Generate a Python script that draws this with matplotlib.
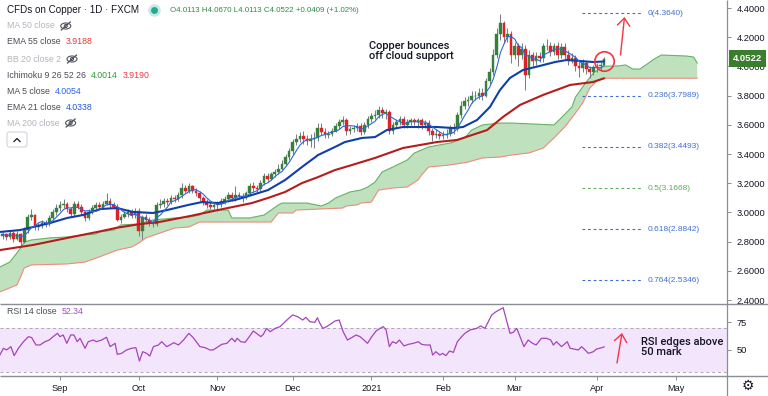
import numpy as np
import pandas as pd
import matplotlib
matplotlib.use('Agg')
import matplotlib.pyplot as plt
from matplotlib.patches import Ellipse, Circle, FancyBboxPatch
from matplotlib.transforms import blended_transform_factory
from matplotlib.ticker import FormatStrFormatter

plt.rcParams['font.family'] = ['Liberation Sans', 'DejaVu Sans']

# ---------------- data ----------------
first_open = 2.84
close = [2.85, 2.83, 2.86, 2.82, 2.85, 2.80, 2.88, 2.97, 2.98, 2.90,
         2.91, 2.93, 2.92, 2.96, 3.00, 3.03, 3.05, 3.06, 3.02, 2.99,
         3.06, 3.04, 3.00, 2.96, 3.00, 3.03, 3.05, 3.04, 3.06, 3.08,
         3.05, 3.04, 2.95, 2.97, 2.99, 3.00, 2.98, 3.01, 2.87, 2.97,
         2.95, 2.93, 2.92, 3.05, 3.06, 3.08, 3.07, 3.10, 3.09, 3.12,
         3.17, 3.15, 3.18, 3.15, 3.13, 3.10, 3.07, 3.05, 3.04, 3.05,
         3.06, 3.08, 3.09, 3.12, 3.10, 3.12, 3.11, 3.10, 3.13, 3.18,
         3.17, 3.16, 3.20, 3.25, 3.23, 3.26, 3.28, 3.30, 3.33, 3.38,
         3.42, 3.48, 3.50, 3.52, 3.50, 3.49, 3.50, 3.51, 3.58, 3.55,
         3.53, 3.54, 3.56, 3.59, 3.62, 3.63, 3.56, 3.57, 3.58, 3.59,
         3.55, 3.60, 3.64, 3.66, 3.67, 3.70, 3.68, 3.69, 3.56, 3.60,
         3.62, 3.64, 3.60, 3.62, 3.63, 3.62, 3.63, 3.60, 3.61, 3.56,
         3.53, 3.54, 3.52, 3.53, 3.54, 3.58, 3.57, 3.67, 3.73, 3.76,
         3.77, 3.80, 3.80, 3.82, 3.80, 3.90, 3.96, 4.08, 4.22, 4.30,
         4.20, 4.22, 4.08, 4.14, 4.08, 4.12, 3.94, 4.08, 4.04, 4.07,
         4.06, 4.14, 4.14, 4.10, 4.14, 4.08, 4.13, 4.08, 4.04, 4.06,
         4.00, 3.99, 4.02, 3.98, 3.965, 3.995, 4.0035, 4.0113, 4.0522]
high = [2.87, 2.86, 2.88, 2.87, 2.87, 2.86, 2.90, 2.99, 3.02, 2.99,
        2.93, 2.95, 2.95, 2.98, 3.02, 3.06, 3.08, 3.09, 3.07, 3.04,
        3.08, 3.08, 3.06, 3.01, 3.02, 3.05, 3.07, 3.07, 3.08, 3.13,
        3.10, 3.07, 3.06, 2.99, 3.01, 3.02, 3.02, 3.03, 3.03, 2.98,
        2.99, 2.97, 2.95, 3.07, 3.09, 3.10, 3.10, 3.12, 3.12, 3.14,
        3.20, 3.19, 3.20, 3.19, 3.17, 3.15, 3.11, 3.09, 3.07, 3.07,
        3.08, 3.10, 3.11, 3.14, 3.14, 3.18, 3.14, 3.13, 3.15, 3.20,
        3.21, 3.19, 3.22, 3.27, 3.27, 3.28, 3.30, 3.33, 3.36, 3.40,
        3.44, 3.50, 3.54, 3.55, 3.56, 3.53, 3.54, 3.55, 3.61, 3.61,
        3.58, 3.56, 3.58, 3.61, 3.64, 3.66, 3.65, 3.59, 3.60, 3.61,
        3.61, 3.62, 3.66, 3.68, 3.70, 3.73, 3.72, 3.71, 3.70, 3.62,
        3.64, 3.66, 3.66, 3.64, 3.65, 3.65, 3.65, 3.65, 3.63, 3.63,
        3.58, 3.57, 3.56, 3.56, 3.57, 3.60, 3.61, 3.69, 3.76, 3.79,
        3.80, 3.83, 3.83, 3.85, 3.85, 3.92, 3.99, 4.12, 4.26, 4.36,
        4.31, 4.26, 4.24, 4.17, 4.16, 4.16, 4.15, 4.11, 4.10, 4.10,
        4.10, 4.16, 4.19, 4.17, 4.16, 4.17, 4.16, 4.16, 4.11, 4.09,
        4.08, 4.04, 4.05, 4.04, 4.00, 4.01, 4.02, 4.03, 4.067]
low = [2.82, 2.81, 2.82, 2.80, 2.81, 2.77, 2.79, 2.86, 2.95, 2.88,
       2.88, 2.89, 2.90, 2.91, 2.95, 2.98, 3.01, 3.03, 3.00, 2.97,
       2.97, 3.02, 2.98, 2.94, 2.95, 2.99, 3.01, 3.02, 3.03, 3.05,
       3.03, 3.02, 2.94, 2.93, 2.96, 2.97, 2.96, 2.96, 2.84, 2.82,
       2.93, 2.91, 2.90, 2.91, 3.03, 3.04, 3.05, 3.06, 3.07, 3.08,
       3.10, 3.13, 3.13, 3.13, 3.11, 3.08, 3.05, 3.03, 3.02, 3.02,
       3.01, 3.04, 3.06, 3.07, 3.08, 3.08, 3.09, 3.07, 3.09, 3.12,
       3.14, 3.13, 3.15, 3.19, 3.21, 3.22, 3.24, 3.26, 3.29, 3.32,
       3.36, 3.40, 3.46, 3.48, 3.47, 3.46, 3.45, 3.44, 3.49, 3.53,
       3.51, 3.51, 3.52, 3.55, 3.57, 3.60, 3.53, 3.54, 3.55, 3.56,
       3.53, 3.54, 3.58, 3.62, 3.64, 3.65, 3.65, 3.64, 3.54, 3.54,
       3.58, 3.60, 3.58, 3.58, 3.60, 3.60, 3.58, 3.57, 3.58, 3.53,
       3.49, 3.51, 3.50, 3.50, 3.51, 3.52, 3.54, 3.56, 3.65, 3.71,
       3.73, 3.75, 3.77, 3.78, 3.77, 3.79, 3.88, 3.94, 4.06, 4.18,
       4.16, 4.17, 4.02, 4.05, 4.00, 4.05, 3.84, 3.92, 4.00, 4.01,
       4.03, 4.03, 4.11, 4.07, 4.08, 4.05, 4.06, 4.05, 4.01, 4.02,
       3.97, 3.93, 3.96, 3.95, 3.92, 3.94, 3.96, 3.97, 4.0113]

ema55_idx = [-0.8, 8.5, 18.0, 27.2, 31.9, 38.4, 43.9, 52.3, 60.1, 69.6, 74.1, 78.9, 83.6,
             88.1, 92.8, 97.6, 104.0, 111.8, 121.3, 126.9, 135.3, 139.7, 144.5, 150.9,
             158.5, 164.9, 168]
ema55 = [2.742, 2.777, 2.825, 2.870, 2.895, 2.920, 2.935, 2.975, 3.016, 3.064, 3.099, 3.140,
         3.201, 3.242, 3.290, 3.325, 3.373, 3.441, 3.482, 3.496, 3.564, 3.653, 3.736, 3.804,
         3.873, 3.893, 3.9188]

ema21_idx = [-0.8, 4.8, 8.5, 13.2, 18.0, 22.4, 27.2, 31.9, 36.4, 42.0, 45.9, 51.8, 55.7, 60.1,
             64.9, 69.6, 74.1, 78.9, 83.6, 88.1, 92.8, 95.6, 100.4, 104.0, 107.3, 111.8, 121.3,
             125.8, 128.6, 132.5, 136.1, 138.9, 141.7, 145.3, 150.0, 154.3, 157.6, 161.3,
             164.9, 168]
ema21 = [2.866, 2.879, 2.900, 2.927, 2.962, 2.982, 3.023, 3.030, 3.003, 2.996, 3.016, 3.051,
         3.071, 3.064, 3.085, 3.119, 3.153, 3.222, 3.311, 3.393, 3.448, 3.482, 3.510, 3.516,
         3.564, 3.585, 3.585, 3.578, 3.585, 3.633, 3.722, 3.838, 3.921, 3.975, 4.003, 4.030,
         4.044, 4.037, 4.030, 4.0338]

span_a_idx = [-0.8, 2, 5, 6, 8, 13, 18, 23, 26, 27, 31, 33, 38, 42, 48, 52, 55, 57, 63, 64,
              69, 73, 77, 78, 85, 89, 91, 93, 95, 97, 100, 102, 104, 106, 109, 113, 115, 119,
              122, 125, 129, 131, 134, 139, 142, 154, 156, 159, 160, 162, 163, 165, 167, 168,
              172, 174, 176, 178, 180, 182, 184, 191, 193, 194]
span_a = [2.626, 2.660, 2.756, 2.797, 2.811, 2.825, 2.832, 2.846, 2.852, 2.866, 2.879, 2.914,
          2.921, 2.948, 2.962, 2.968, 2.982, 3.016, 3.016, 2.962, 2.962, 2.982, 3.051, 3.064,
          3.064, 3.044, 3.064, 3.099, 3.119, 3.140, 3.153, 3.174, 3.208, 3.277, 3.311, 3.359,
          3.407, 3.448, 3.462, 3.475, 3.510, 3.564, 3.599, 3.612, 3.612, 3.599, 3.647, 3.722,
          3.790, 3.859, 3.893, 3.955, 3.989, 4.0014, 4.003, 4.010, 3.982, 3.982, 4.016, 4.051,
          4.078, 4.071, 4.064, 4.023]
span_b_idx = [-0.8, 4, 5, 6, 8, 18, 23, 27, 32, 36, 38, 40, 44, 48, 52, 55, 75, 77, 81, 82,
              95, 96, 99, 100, 103, 105, 109, 113, 116, 117, 119, 125, 130, 134, 139, 142, 147,
              151, 154, 157, 160, 162, 164, 166, 168, 194]
span_b = [2.455, 2.503, 2.558, 2.619, 2.640, 2.647, 2.660, 2.695, 2.742, 2.763, 2.790, 2.825,
          2.859, 2.893, 2.900, 2.934, 2.934, 2.996, 2.996, 3.016, 3.030, 3.044, 3.051, 3.064,
          3.071, 3.153, 3.167, 3.174, 3.222, 3.256, 3.311, 3.325, 3.345, 3.373, 3.379, 3.393,
          3.407, 3.441, 3.510, 3.585, 3.681, 3.749, 3.852, 3.900, 3.919, 3.919]

rsi_idx = [-0.8, 0.2, 1.1, 2.3, 3.2, 4.4, 5.8, 7.2, 8.1, 9.3,
           10.4, 11.8, 13.0, 14.1, 15.3, 16.0, 16.9, 17.9, 19.0, 19.9,
           20.8, 21.6, 23.0, 23.9, 25.3, 26.2, 27.6, 29.0, 30.0, 31.4,
           32.0, 33.2, 34.6, 36.0, 37.2, 38.2, 39.1, 40.2, 41.1, 42.1,
           43.5, 44.4, 45.8, 46.7, 47.8, 49.1, 50.5, 52.0, 53.2, 55.1,
           56.5, 57.9, 58.8, 60.2, 61.2, 62.6, 64.0, 64.9, 65.5, 66.5,
           67.7, 68.9, 70.0, 70.9, 72.1, 72.8, 73.7, 74.7, 76.1, 77.5,
           78.9, 80.1, 81.0, 82.4, 83.8, 84.7, 85.8, 87.2, 87.9, 88.6,
           89.4, 90.5, 91.9, 92.8, 94.0, 95.1, 96.3, 97.5, 98.7, 99.8,
           100.7, 101.9, 103.1, 104.3, 105.4, 106.3, 107.1, 108.0, 108.9, 109.9,
           110.8, 112.1, 113.3, 114.7, 116.1, 117.0, 118.1, 119.4, 120.1, 121.0,
           122.1, 122.9, 123.8, 124.8, 125.9, 127.0, 128.2, 129.1, 130.5, 132.4,
           133.5, 134.7, 136.6, 137.8, 139.8, 141.7, 142.6, 143.6, 144.5, 145.6,
           146.8, 148.0, 149.0, 150.5, 151.9, 153.1, 153.8, 154.7, 156.1, 157.7,
           158.5, 159.4, 160.8, 161.7, 162.4, 163.6, 165.0, 165.9, 166.8, 168.0]
rsi = [45.0, 51.1, 49.6, 52.6, 44.4, 51.1, 57.1, 61.7, 60.8, 54.1,
       54.1, 57.1, 58.6, 61.7, 64.7, 61.7, 63.2, 55.6, 63.2, 63.2,
       57.1, 60.2, 51.1, 57.1, 58.6, 57.1, 58.6, 61.1, 52.6, 55.6,
       45.6, 46.5, 49.6, 51.1, 51.7, 39.5, 48.0, 46.5, 44.1, 52.6,
       54.1, 57.1, 52.6, 54.1, 56.2, 54.1, 58.6, 64.7, 60.8, 52.6,
       51.7, 49.6, 49.6, 52.6, 54.7, 55.6, 60.2, 57.1, 60.2, 57.1,
       56.5, 61.7, 66.8, 64.7, 61.7, 63.8, 69.2, 66.2, 69.2, 70.8,
       75.3, 78.9, 81.4, 79.8, 76.8, 79.2, 75.3, 74.7, 78.9, 73.8,
       69.2, 70.8, 73.8, 75.9, 76.8, 66.2, 58.6, 60.8, 63.2, 61.7,
       59.2, 55.6, 61.7, 66.8, 69.2, 70.8, 67.7, 52.6, 57.1, 55.6,
       58.6, 53.2, 54.7, 55.6, 57.1, 54.7, 54.1, 54.1, 45.0, 48.0,
       45.0, 46.5, 44.4, 48.6, 47.4, 57.1, 61.7, 64.7, 67.7, 69.2,
       71.4, 69.2, 81.4, 84.4, 88.0, 64.7, 65.6, 69.2, 61.7, 52.6,
       58.6, 55.6, 54.1, 60.2, 60.2, 58.6, 54.1, 57.1, 52.6, 57.1,
       51.1, 50.5, 49.6, 52.6, 50.5, 46.5, 48.0, 50.5, 51.1, 52.34]

fib_ratio = ['0', '0.236', '0.382', '0.5', '0.618', '0.764']
fib_level = [4.3640, 3.7989, 3.4493, 3.1668, 2.8842, 2.5346]

price_ticks = [2.4, 2.6, 2.8, 3.0, 3.2, 3.4, 3.6, 3.8, 4.0, 4.2, 4.4]
rsi_ticks = [50, 75]

# ---------------- derived ----------------
C = np.array(close)
H = np.array(high)
L = np.array(low)
O = np.concatenate([[first_open], C[:-1]])
N = len(C)
xi = np.arange(N)
ma5 = pd.Series(C).rolling(5, min_periods=1).mean().values

holidays = pd.to_datetime(['2020-12-25', '2021-01-01'])
days = pd.bdate_range('2020-08-10', '2021-05-31')
days = days[~days.isin(holidays)]
mt_pos, mt_lab = [], []
for i in range(1, len(days)):
    if days[i].month != days[i - 1].month:
        mt_pos.append(i)
        mt_lab.append('2021' if days[i].month == 1 else days[i].strftime('%b'))

# ---------------- style ----------------
GREEN = '#35803a'
RED = '#e01f26'
WICK = '#7d7f86'
TXT = '#131722'
LINEC = '#8a8d96'

W, Hh = 768, 396
fig = plt.figure(figsize=(W / 100, Hh / 100), dpi=100)
XL = (-0.754, 202.32)

ax = fig.add_axes([0, 1 - 304 / Hh, 727 / W, 304 / Hh])
rx = fig.add_axes([0, 1 - 376 / Hh, 727 / W, 72 / Hh])

# cloud
poly_x = list(span_a_idx) + list(span_b_idx)[::-1]
poly_y = list(span_a) + list(span_b)[::-1]
ax.fill(poly_x, poly_y, color='#bfe1bd', lw=0, zorder=1)
ax.plot(span_a_idx, span_a, color='#66b266', lw=0.8, zorder=2)
ax.plot(span_b_idx, span_b, color='#ef8a7e', lw=0.8, zorder=2)

# candles
up = C >= O
ax.vlines(xi, L, H, color=WICK, lw=0.75, zorder=4)
ax.bar(xi[up], (C - O)[up], bottom=O[up], width=0.74, color=GREEN, edgecolor=GREEN, lw=0.3, zorder=5)
ax.bar(xi[~up], (C - O)[~up], bottom=O[~up], width=0.74, color=RED, edgecolor=RED, lw=0.3, zorder=5)

# moving averages
ax.plot(ema55_idx, ema55, color='#b71c1c', lw=1.5, zorder=6, solid_capstyle='round')
ax.plot(ema21_idx, ema21, color='#0f3fa8', lw=1.5, zorder=6, solid_capstyle='round')
ax.plot(xi, ma5, color='#2f66dd', lw=0.8, zorder=6)

# fibonacci
for r, v in zip(fib_ratio, fib_level):
    col = '#5cae5c' if r == '0.5' else '#3d6fd6'
    ax.hlines(v, 161.8, 178.8, colors=col, linestyles=(0, (2.5, 2.5)), lw=0.8, zorder=3)
    ax.text(180.2, v, f'{r}({v:.4f})', color=col, fontsize=6.0, va='center', ha='left', zorder=7)

# red circle around last candle
ax.plot([xi[-1]], [(H[-1] + L[-1]) / 2], 'o', ms=14, mfc='none', mec='#f23645', mew=1.2, zorder=8)

ax.set_xlim(*XL)
ax.set_ylim(4.4 - 296 / 146, 4.4 + 8 / 146)
ax.yaxis.tick_right()
ax.set_yticks(price_ticks)
ax.yaxis.set_major_formatter(FormatStrFormatter('%.4f'))
ax.tick_params(axis='y', length=3, width=0.7, color=LINEC, labelsize=6.7, labelcolor=TXT, pad=4)
ax.tick_params(axis='x', bottom=False, labelbottom=False)
for s in ax.spines.values():
    s.set_visible(False)

# current price label
bt = blended_transform_factory(ax.transAxes, ax.transData)
ax.text(1.0 + 6 / 727, C[-1], f'{C[-1]:.4f}', transform=bt, ha='left', va='center', fontsize=6.8,
        fontweight='bold', color='white', clip_on=False, zorder=20,
        bbox=dict(boxstyle='square,pad=0.42', fc='#3a7d2c', ec='none'))

# RSI panel
rx.fill_between([XL[0], XL[1]], 30, 70, color='#f3e6fc', lw=0, zorder=1)
rx.hlines([30, 70], XL[0], XL[1], colors='#a9a9b3', linestyles=(0, (3, 3)), lw=0.7, zorder=2)
rx.plot(rsi_idx, rsi, color='#a544bb', lw=0.9, zorder=3)
rx.set_xlim(*XL)
rx.set_ylim(30 - 4.5 / 1.1, 70 + 23.5 / 1.1)
rx.yaxis.tick_right()
rx.set_yticks(rsi_ticks)
rx.tick_params(axis='y', length=3, width=0.7, color=LINEC, labelsize=6.7, labelcolor=TXT, pad=4)
rx.set_xticks(mt_pos)
rx.set_xticklabels(mt_lab)
rx.tick_params(axis='x', length=3, width=0.7, color=LINEC, labelsize=6.6, labelcolor=TXT, pad=3)
for s in rx.spines.values():
    s.set_visible(False)

# ---------------- overlay (pixel coords) ----------------
ov = fig.add_axes([0, 0, 1, 1], zorder=10)
ov.set_xlim(0, W)
ov.set_ylim(Hh, 0)
ov.axis('off')
ov.patch.set_alpha(0)

ov.hlines([304, 376], 0, W, colors=LINEC, lw=1.0)
ov.vlines(727, 0, Hh, colors=LINEC, lw=0.9)

fig.canvas.draw()
renderer = fig.canvas.get_renderer()


def segs(x, y, parts, size=6.3, gap=5):
    for s, col in parts:
        t = ov.text(x, y, s, color=col, fontsize=size, va='center', ha='left')
        x += t.get_window_extent(renderer).width + gap
    return x


def eye(cx, cy, col='#50535e'):
    ov.add_patch(Ellipse((cx, cy), 10, 6, fill=False, ec=col, lw=0.8))
    ov.add_patch(Circle((cx, cy), 1.5, fill=False, ec=col, lw=0.8))
    ov.plot([cx - 4.5, cx + 4.5], [cy + 4, cy - 4], color=col, lw=0.9)


xe = segs(7, 10, [('CFDs on Copper · 1D · FXCM', TXT)], size=7.1, gap=0)
dot_x = xe + 15
ov.plot([dot_x], [10], 'o', ms=9, color='#22ab94', alpha=0.25, mew=0)
ov.plot([dot_x], [10], 'o', ms=5, color='#22ab94', mew=0)
chg = C[-1] - O[-1]
ohlc = f'O{O[-1]:.4f} H{H[-1]:.4f} L{L[-1]:.4f} C{C[-1]:.4f} {chg:+.4f} ({chg / O[-1] * 100:+.2f}%)'
segs(dot_x + 16, 10, [(ohlc, '#2f8a48')], size=5.7, gap=0)

GREY = '#b2b5be'
NAME = '#4a4d57'
rows_y = [26, 42, 59, 75, 91, 107, 123]
xe = segs(7, rows_y[0], [('MA 50 close', GREY)])
eye(xe + 6, rows_y[0])
segs(7, rows_y[1], [('EMA 55 close', NAME), (f'{ema55[-1]:.4f}', '#e53935')])
xe = segs(7, rows_y[2], [('BB 20 close 2', GREY)])
eye(xe + 6, rows_y[2])
segs(7, rows_y[3], [('Ichimoku 9 26 52 26', NAME), (f'{span_a[span_a_idx.index(N - 1)]:.4f}', '#2e9a3a'),
                    (f'{span_b[span_b_idx.index(N - 1)]:.4f}', '#f23645')])
segs(7, rows_y[4], [('MA 5 close', NAME), (f'{ma5[-1]:.4f}', '#2962ff')])
segs(7, rows_y[5], [('EMA 21 close', NAME), (f'{ema21[-1]:.4f}', '#2457d6')])
xe = segs(7, rows_y[6], [('MA 200 close', GREY)])
eye(xe + 6, rows_y[6])

ov.add_patch(FancyBboxPatch((7, 132), 20, 15, boxstyle='round,pad=0,rounding_size=2.5',
                            fc='white', ec='#d1d4dc', lw=0.8))
ov.plot([14, 17, 20], [141.5, 138.5, 141.5], color=TXT, lw=0.9)

segs(7, 312, [('RSI 14 close', NAME), (f'{rsi[-1]:.2f}', '#ab47bc')])

ov.text(369, 41, 'Copper bounces\noff cloud support', fontsize=8.0, color=TXT, va='top',
        ha='left', linespacing=1.05, family=['Roboto', 'DejaVu Sans'], fontweight='medium')
ov.text(641, 337, 'RSI edges above\n50 mark', fontsize=8.0, color=TXT, va='top',
        ha='left', linespacing=1.05, family=['Roboto', 'DejaVu Sans'], fontweight='medium')

arrow = dict(arrowstyle='->,head_length=0.55,head_width=0.45', color='#f23645', lw=1.0,
             shrinkA=0, shrinkB=0)
ov.annotate('', xy=(624.5, 17), xytext=(620.5, 55), arrowprops=arrow)
ov.annotate('', xy=(622, 333), xytext=(617, 363), arrowprops=arrow)

ov.text(748, 386, '\u2699', fontsize=10, ha='center', va='center', color=TXT, family='DejaVu Sans')

fig.savefig('out.png', dpi=100)
